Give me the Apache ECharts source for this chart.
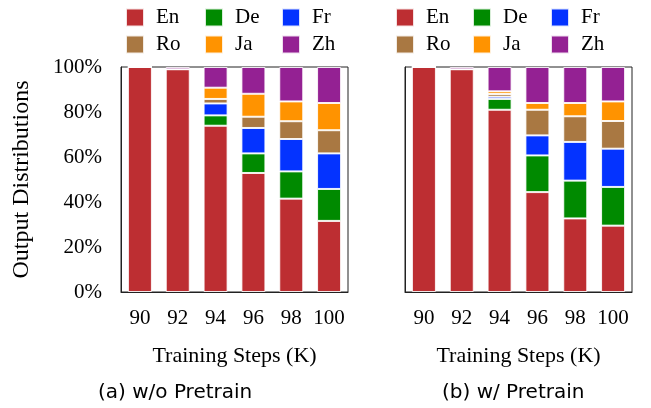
<!DOCTYPE html>
<html>
<head>
<meta charset="utf-8">
<script src="https://cdn.jsdelivr.net/npm/echarts@6/dist/echarts.min.js"></script>
<style>html,body{margin:0;padding:0;background:#fff;}#chart{width:651px;height:408px;}</style>
</head>
<body>
<div id="chart"></div>
<script>
const categories = ['90', '92', '94', '96', '98', '100'];
const languages = ['En', 'De', 'Fr', 'Ro', 'Ja', 'Zh'];
const yTicks = [0, 20, 40, 60, 80, 100];

// (a) w/o Pretrain
const woEn = [100, 99, 73.9, 52.9, 41.5, 31.6];
const woDe = [0, 0, 4.6, 8.7, 12.1, 14.2];
const woFr = [0, 0, 5.3, 11.3, 14.4, 15.8];
const woRo = [0, 0, 2.0, 5.0, 7.9, 10.3];
const woJa = [0, 0, 5.0, 10.2, 8.8, 12.1];
const woZh = [0, 1, 9.2, 11.9, 15.3, 16.0];

// (b) w/ Pretrain
const wEn = [100, 99, 81.0, 44.4, 32.7, 29.5];
const wDe = [0, 0, 4.8, 16.3, 16.8, 17.2];
const wFr = [0, 0, 1.0, 8.9, 17.2, 17.0];
const wRo = [0, 0, 1.2, 11.4, 11.4, 12.3];
const wJa = [0, 0, 1.2, 3.0, 5.9, 8.7];
const wZh = [0, 1, 10.8, 16.0, 16.0, 15.3];

const subplotTitles = ['(a) w/o Pretrain', '(b) w/ Pretrain'];
const xTitle = 'Training Steps (K)';
const yTitle = 'Output Distributions';

const colors = {En: '#BD2E32', De: '#008A00', Fr: '#0433FF', Ro: '#A97842', Ja: '#FF9300', Zh: '#942193'};
const serif = '"Liberation Serif", "DejaVu Serif", serif';
const sans = '"DejaVu Sans", sans-serif';

const woData = {En: woEn, De: woDe, Fr: woFr, Ro: woRo, Ja: woJa, Zh: woZh};
const wData = {En: wEn, De: wDe, Fr: wFr, Ro: wRo, Ja: wJa, Zh: wZh};

const gridLefts = [121, 405];
const gridW = 227;

function makeSeries(dataMap, idx) {
  return languages.map(l => ({
    name: l,
    type: 'bar',
    stack: 's' + idx,
    xAxisIndex: idx,
    yAxisIndex: idx,
    barWidth: 24,
    data: dataMap[l],
    itemStyle: {color: colors[l], borderColor: 'rgba(255,255,255,0.85)', borderWidth: 1},
    emphasis: {disabled: true},
    animation: false
  }));
}

const legendCols = [['En', 'Ro'], ['De', 'Ja'], ['Fr', 'Zh']];
const legendLefts = [[120, 199, 276], [390, 467, 545]];
const legends = [];
legendLefts.forEach(row => {
  row.forEach((lx, c) => {
    legends.push({
      orient: 'vertical',
      left: lx,
      top: 2,
      padding: 5,
      itemWidth: 18,
      itemHeight: 18,
      itemGap: 6,
      icon: 'rect',
      selectedMode: false,
      data: legendCols[c],
      textStyle: {fontFamily: serif, fontSize: 21, color: '#000', lineHeight: 20, padding: [0, 0, 0, 7]}
    });
  });
});

function xAx(i) {
  return {
    type: 'category',
    gridIndex: i,
    data: categories,
    axisTick: {show: false},
    axisLine: {show: true, lineStyle: {color: '#222', width: 1}},
    axisLabel: {interval: 0, fontFamily: serif, fontSize: 21, color: '#000', margin: 16},
    name: xTitle,
    nameLocation: 'middle',
    nameGap: 53,
    nameTextStyle: {fontFamily: serif, fontSize: 22, color: '#000'}
  };
}
function yAx(i) {
  return {
    type: 'value',
    gridIndex: i,
    min: 0, max: 100, interval: 20,
    splitLine: {show: false},
    axisTick: {show: false},
    axisLine: {show: true, lineStyle: {color: '#222', width: 1}},
    axisLabel: {show: i === 0, fontFamily: serif, fontSize: 21, color: '#000', margin: 19,
      formatter: v => yTicks.includes(v) ? v + '%' : ''},
    name: i === 0 ? yTitle : '',
    nameLocation: 'middle',
    nameGap: 87,
    nameTextStyle: {fontFamily: serif, fontSize: 24, color: '#000'}
  };
}

const option = {
  backgroundColor: '#fff',
  animation: false,
  title: [
    {text: subplotTitles[0], left: 93, top: 378, textStyle: {fontFamily: sans, fontSize: 20, fontWeight: 'normal', color: '#000'}},
    {text: subplotTitles[1], left: 437, top: 378, textStyle: {fontFamily: sans, fontSize: 20, fontWeight: 'normal', color: '#000'}}
  ],
  legend: legends,
  grid: gridLefts.map(l => ({left: l, top: 67, width: gridW, height: 225, show: true, borderColor: '#222', borderWidth: 1, backgroundColor: 'transparent'})),
  xAxis: [xAx(0), xAx(1)],
  yAxis: [yAx(0), yAx(1)],
  series: makeSeries(woData, 0).concat(makeSeries(wData, 1))
};

const chart = echarts.init(document.getElementById('chart'), null, {renderer: 'canvas'});
chart.setOption(option);
</script>
</body>
</html>
